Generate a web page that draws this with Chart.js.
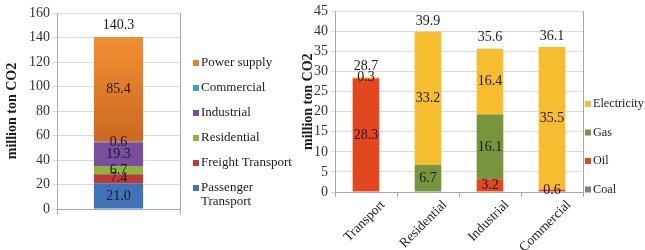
<!DOCTYPE html>
<html><head><meta charset="utf-8">
<script src="https://cdn.jsdelivr.net/npm/chart.js@4.4.0/dist/chart.umd.min.js"></script>
<style>
html,body{margin:0;padding:0;background:#fff;}
#wrap{position:relative;width:645px;height:250px;overflow:hidden;background:#fff;}
#c1{position:absolute;left:0;top:0;}
#c2{position:absolute;left:300px;top:0;}
</style></head><body>
<div id="wrap"><canvas id="c1" width="300" height="250"></canvas><canvas id="c2" width="345" height="250"></canvas></div>
<script>
// ---- Left chart: emissions by sector (million ton CO2)
const sectorCategories = [''];
const passengerTransport = [21.0];
const freightTransport = [7.4];
const residentialSector = [6.7];
const industrialSector = [19.3];
const commercialSector = [0.6];
const powerSupply = [85.4];
const sectorTotals = [140.3];
const sectorAxisMax = 160;
const sectorAxisStep = 20;

// ---- Right chart: end-use emissions by fuel (million ton CO2)
const useCategories = ['Transport', 'Residential', 'Industrial', 'Commercial'];
const coal = [0, 0, 0, 0];
const oil = [28.3, 0, 3.2, 0.6];
const gas = [0, 6.7, 16.1, 0];
const electricity = [0.3, 33.2, 16.4, 35.5];
const useTotals = [28.7, 39.9, 35.6, 36.1];
const useAxisMax = 45;
const useAxisStep = 5;

const FAMILY = '"Liberation Serif", "Times New Roman", serif';
const AXIS = '#a6a6a6', GRID = '#d9d9d9', TXT = '#1a1a1a';

function valueLabels(totals, offset) {
  return {
    id: 'valueLabels',
    afterDatasetsDraw(chart) {
      const ctx = chart.ctx; ctx.save();
      ctx.font = '14px ' + FAMILY; ctx.fillStyle = TXT;
      ctx.textAlign = 'center'; ctx.textBaseline = 'middle';
      chart.data.datasets.forEach((ds, di) => {
        const meta = chart.getDatasetMeta(di);
        meta.data.forEach((el, i) => {
          const v = ds.data[i]; if (!v) return;
          ctx.fillText(v.toFixed(1), el.x, (el.y + el.base) / 2);
        });
      });
      const ys = chart.scales.y;
      totals.forEach((t, i) => {
        const sum = chart.data.datasets.reduce((a, ds) => a + (ds.data[i] || 0), 0);
        const el = chart.getDatasetMeta(0).data[i];
        ctx.fillText(t.toFixed(1), el.x, ys.getPixelForValue(sum) - offset);
      });
      ctx.restore();
    }
  };
}

function sideLegend(cfg) {
  return {
    id: 'sideLegend',
    afterDraw(chart) {
      const ctx = chart.ctx; ctx.save();
      ctx.font = cfg.size + 'px ' + FAMILY; ctx.textBaseline = 'middle'; ctx.textAlign = 'left';
      const items = chart.data.datasets.map(d => ({ label: d.label, color: d.legendColor || d.backgroundColor })).reverse();
      items.forEach((it, k) => {
        const y = cfg.y0 + k * cfg.step;
        ctx.fillStyle = it.color; ctx.fillRect(cfg.x, y - cfg.box / 2, cfg.box, cfg.box);
        ctx.fillStyle = TXT;
        const lines = Array.isArray(it.label) ? it.label : [it.label];
        lines.forEach((ln, j) => ctx.fillText(ln, cfg.x + cfg.box + 2, y + j * cfg.lineH));
      });
      ctx.restore();
    }
  };
}

function orangeGradient(c) {
  const a = c.chart.chartArea;
  if (!a) return '#e8812d';
  const g = c.chart.ctx.createLinearGradient(0, a.top, 0, a.bottom);
  g.addColorStop(0, '#f49a42');
  g.addColorStop(0.15, '#f08d32');
  g.addColorStop(0.7, '#c8661f');
  g.addColorStop(1, '#b85a18');
  return g;
}

const tickFont = { family: FAMILY, size: 14 };
const titleFont = { family: FAMILY, size: 14, weight: 'bold' };

new Chart(document.getElementById('c1'), {
  type: 'bar',
  data: {
    labels: sectorCategories,
    datasets: [
      { label: ['Passenger', 'Transport'], data: passengerTransport, backgroundColor: '#3f72b6' },
      { label: 'Freight Transport', data: freightTransport, backgroundColor: '#be3a3a' },
      { label: 'Residential', data: residentialSector, backgroundColor: '#8db43e' },
      { label: 'Industrial', data: industrialSector, backgroundColor: '#7a4e9e' },
      { label: 'Commercial', data: commercialSector, backgroundColor: '#3aa1bf' },
      { label: 'Power supply', data: powerSupply, backgroundColor: orangeGradient, legendColor: '#e8812d' }
    ]
  },
  options: {
    responsive: false, animation: false, devicePixelRatio: 1,
    layout: { padding: { left: 0, top: 13, right: 120, bottom: 0 } },
    datasets: { bar: { barPercentage: 0.4, categoryPercentage: 1, borderWidth: 0 } },
    plugins: { legend: { display: false }, tooltip: { enabled: false } },
    scales: {
      x: {
        stacked: true, offset: true,
        grid: { display: true, drawOnChartArea: false, drawTicks: true, tickLength: 5, color: AXIS },
        border: { color: AXIS },
        ticks: { display: false },
        afterFit(s) { s.height = 41; }
      },
      y: {
        stacked: true, min: 0, max: sectorAxisMax,
        ticks: { stepSize: sectorAxisStep, font: tickFont, color: '#333', padding: 2 },
        grid: { color: GRID, tickLength: 5 },
        border: { color: AXIS },
        title: { display: true, text: 'million ton CO2', font: titleFont, color: TXT, padding: { top: 4, bottom: 0 } },
        afterFit(s) { s.width = 57; }
      },
      yr: {
        type: 'linear', position: 'right', display: true,
        grid: { drawOnChartArea: false, drawTicks: false },
        ticks: { display: false }, border: { color: AXIS },
        afterFit(s) { s.width = 0; }
      }
    }
  },
  plugins: [valueLabels(sectorTotals, 12), sideLegend({ x: 193, y0: 63, step: 25, box: 6, lineH: 14, size: 13 })]
});

new Chart(document.getElementById('c2'), {
  type: 'bar',
  data: {
    labels: useCategories,
    datasets: [
      { label: 'Coal', data: coal, backgroundColor: '#808080' },
      { label: 'Oil', data: oil, backgroundColor: '#e2471f' },
      { label: 'Gas', data: gas, backgroundColor: '#77953c' },
      { label: 'Electricity', data: electricity, backgroundColor: '#f6bd30' }
    ]
  },
  options: {
    responsive: false, animation: false, devicePixelRatio: 1,
    layout: { padding: { left: 0, top: 8, right: 62, bottom: 0 } },
    datasets: { bar: { barPercentage: 0.43, categoryPercentage: 1, borderWidth: 0 } },
    plugins: { legend: { display: false }, tooltip: { enabled: false } },
    scales: {
      x: {
        stacked: true, offset: true,
        grid: { display: true, drawOnChartArea: false, drawTicks: true, tickLength: 5, color: AXIS },
        border: { color: AXIS },
        ticks: { font: { family: FAMILY, size: 13.5 }, color: TXT, minRotation: 45, maxRotation: 45, padding: 0, labelOffset: 17 },
        afterFit(s) { s.height = 58; }
      },
      y: {
        stacked: true, min: 0, max: useAxisMax,
        ticks: { stepSize: useAxisStep, font: tickFont, color: '#333', padding: 3 },
        grid: { color: GRID, tickLength: 4 },
        border: { color: AXIS },
        title: { display: true, text: 'million ton CO2', font: titleFont, color: TXT, padding: { top: 0, bottom: 0 } },
        afterFit(s) { s.width = 35; }
      },
      yr: {
        type: 'linear', position: 'right', display: true,
        grid: { drawOnChartArea: false, drawTicks: false },
        ticks: { display: false }, border: { color: AXIS },
        afterFit(s) { s.width = 0; }
      }
    }
  },
  plugins: [valueLabels(useTotals, 11), sideLegend({ x: 285, y0: 104, step: 28.5, box: 6, lineH: 14, size: 12.2 })]
});
</script>
</body></html>
